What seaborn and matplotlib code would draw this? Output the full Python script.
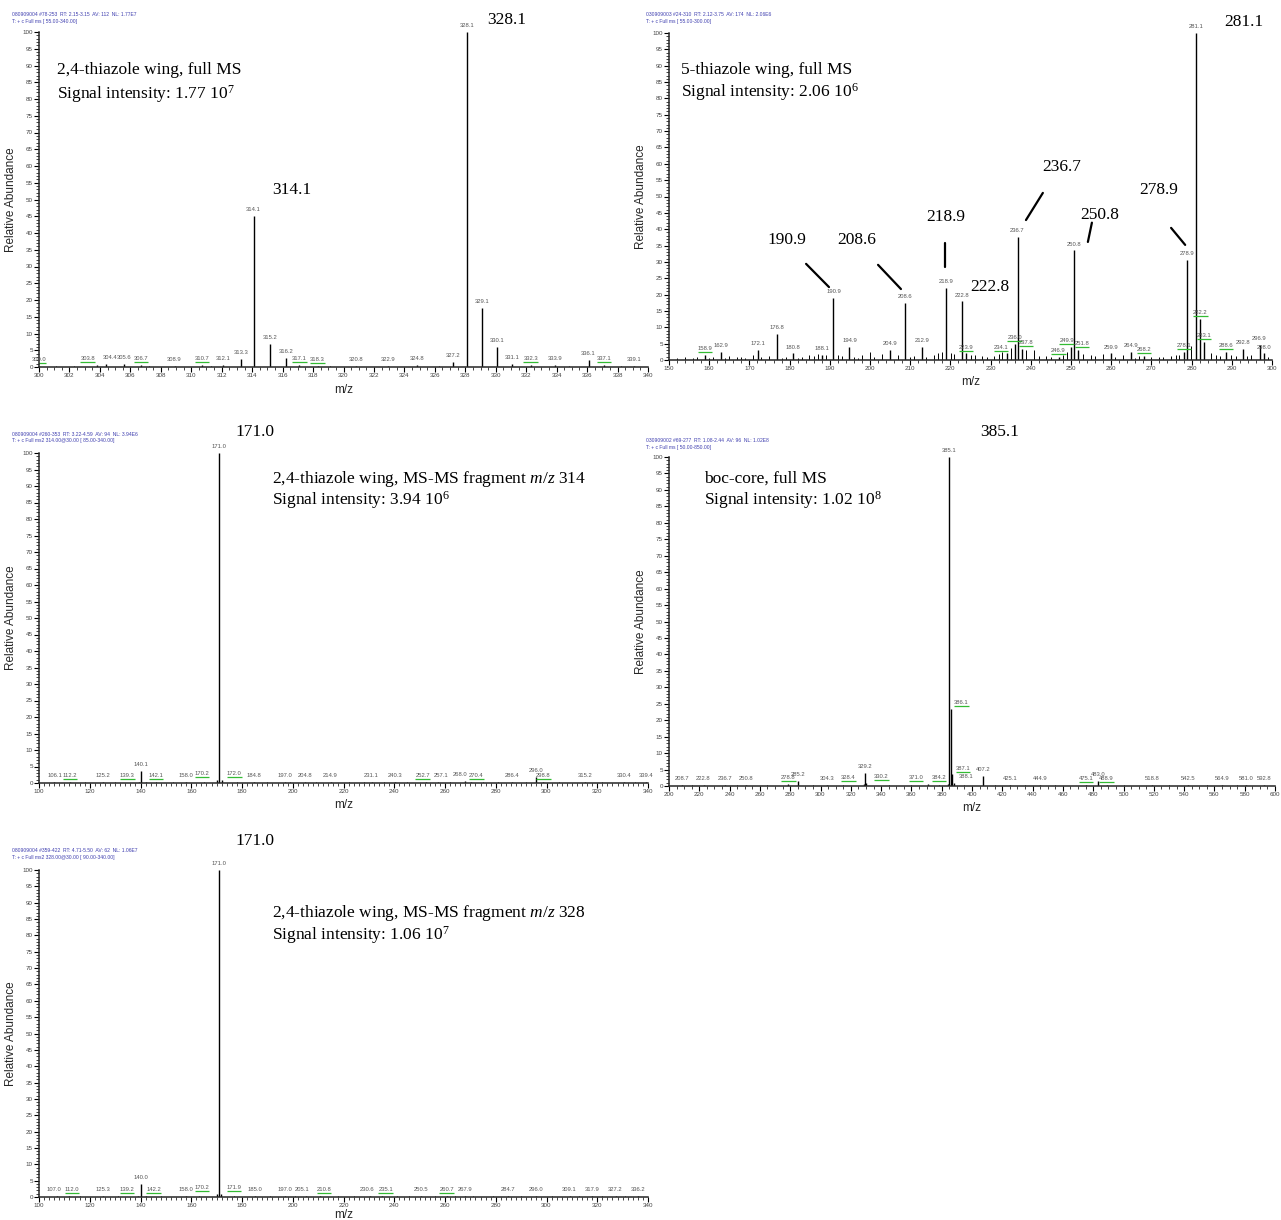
import matplotlib
matplotlib.use("Agg")
import matplotlib.pyplot as plt
import seaborn as sns
from matplotlib.ticker import MultipleLocator

sns.set_style("ticks")
plt.rcParams['font.family'] = ['Liberation Sans', 'DejaVu Sans']
plt.rcParams['mathtext.fontset'] = 'custom'
plt.rcParams['mathtext.rm'] = 'Liberation Serif'
plt.rcParams['mathtext.it'] = 'Liberation Serif:italic'

# ---- panel 1 : 2,4-thiazole wing, full MS
p1_mz = [300.0, 303.8, 304.4, 305.6, 306.7, 308.9, 310.7, 312.1, 313.3, 314.1, 315.2, 316.2, 317.1,
         318.3, 320.8, 322.9, 324.8, 327.2, 328.1, 329.1, 330.1, 331.1, 332.3, 333.9, 336.1, 337.1, 339.1]
p1_ab = [0.4, 0.5, 1.0, 0.8, 0.5, 0.3, 0.5, 0.6, 2.5, 45.0, 7.0, 2.6, 0.5,
         0.4, 0.3, 0.3, 0.6, 1.5, 100.0, 17.5, 6.0, 1.0, 0.5, 0.5, 2.0, 0.5, 0.4]
p1_green = [300.0, 303.8, 306.7, 310.7, 317.1, 318.3, 332.3, 337.1]
p1_noise_mz = [301.1, 302.3, 307.2, 311.3, 319.1, 326.3, 334.8, 338.2]
p1_noise_ab = [0.3, 0.2, 0.4, 0.2, 0.3, 0.2, 0.3, 0.2]

# ---- panel 2 : 5-thiazole wing, full MS
p2_mz = [158.9, 162.9, 172.1, 176.8, 180.8, 188.1, 190.9, 194.9, 204.9, 208.6, 212.9, 218.9, 222.8,
         223.9, 234.1, 236.0, 236.7, 237.8, 246.9, 249.9, 250.8, 251.8, 259.9, 264.9, 268.2, 278.1,
         278.9, 281.1, 282.2, 283.1, 288.6, 292.8, 296.9, 298.0]
p2_ab = [1.5, 2.5, 3.0, 8.0, 2.0, 1.5, 19.0, 4.0, 3.0, 17.4, 4.0, 21.9, 17.9,
         2.0, 2.0, 5.0, 37.5, 3.5, 1.0, 4.0, 33.5, 3.0, 2.0, 2.5, 1.2, 2.5,
         30.7, 100.0, 12.5, 5.5, 2.5, 3.5, 4.5, 2.0]
p2_green = [158.9, 223.9, 234.1, 236.0, 237.8, 246.9, 249.9, 251.8, 268.2, 278.1, 282.2, 283.1, 288.6]
p2_noise_mz = [152, 154, 156, 157, 160, 161, 164, 165, 166.9, 168, 169, 171, 173, 174.9, 178, 179,
               182, 183, 184.9, 186, 187, 189, 192, 193, 196, 197, 198, 199.9, 201, 202.9, 206.9,
               210, 211, 214, 215.9, 216.9, 217.9, 220.1, 220.9, 225, 226, 227.9, 229, 230.9, 232,
               232.9, 235.1, 238.9, 240.9, 242, 243.9, 245, 247.9, 248.9, 252.9, 254.9, 256, 257.9,
               261, 262.9, 266, 267, 270, 271.9, 273, 274.9, 276, 276.9, 279.9, 284.9, 286, 287,
               289.9, 291, 293.9, 294.9, 299]
p2_noise_ab = [0.6, 0.8, 0.5, 1.0, 0.7, 0.9, 0.6, 1.2, 1.0, 0.8, 0.6, 1.4, 0.8, 1.2, 0.7, 0.9,
               0.6, 0.9, 1.5, 1.1, 1.8, 1.6, 1.5, 1.2, 0.8, 0.6, 1.4, 2.5, 0.9, 1.8, 1.6,
               0.9, 1.2, 1.0, 1.5, 2.2, 2.4, 2.0, 1.8, 1.4, 1.5, 1.2, 0.9, 1.3, 1.8,
               2.4, 3.8, 3.0, 3.2, 1.2, 1.1, 0.8, 1.6, 2.5, 1.8, 1.5, 1.2, 1.8,
               0.9, 1.5, 0.7, 1.1, 0.9, 1.0, 0.8, 1.2, 1.4, 1.6, 4.2, 2.0, 1.4, 1.2,
               1.5, 1.1, 1.2, 1.4, 1.0]

# ---- panel 3 : MS-MS fragment m/z 314
p3_mz = [106.1, 112.2, 125.2, 139.3, 140.1, 142.1, 158.0, 170.2, 171.0, 172.0, 184.8, 197.0, 204.8,
         214.9, 231.1, 240.3, 252.7, 257.1, 268.0, 270.4, 286.4, 296.0, 298.8, 315.2, 330.4, 339.4]
p3_ab = [0.3, 0.4, 0.3, 0.4, 3.5, 0.4, 0.3, 1.0, 100.0, 0.8, 0.3, 0.4, 0.3,
         0.3, 0.3, 0.3, 0.3, 0.3, 0.6, 0.3, 0.3, 1.8, 0.3, 0.3, 0.3, 0.3]
p3_green = [112.2, 139.3, 142.1, 170.2, 172.0, 252.7, 270.4, 298.8]
p3_noise_mz = [118, 130, 146, 153, 165, 178, 190, 199, 209, 222, 228, 236, 245, 262, 275, 281, 292, 305, 322, 335]
p3_noise_ab = [0.2, 0.2, 0.3, 0.2, 0.2, 0.3, 0.2, 0.3, 0.2, 0.2, 0.3, 0.2, 0.3, 0.2, 0.3, 0.2, 0.2, 0.3, 0.2, 0.2]

# ---- panel 4 : boc-core, full MS
p4_mz = [208.7, 222.8, 236.7, 250.8, 278.8, 285.2, 304.3, 328.4, 329.2, 330.2, 371.0, 384.2, 385.1,
         386.1, 387.1, 388.1, 407.2, 425.1, 444.9, 475.1, 483.0, 488.9, 518.8, 542.5, 564.9, 581.0, 592.8]
p4_ab = [0.2, 0.2, 0.2, 0.2, 0.5, 1.5, 0.2, 0.5, 4.0, 1.0, 0.5, 0.7, 100.0,
         23.5, 3.5, 1.0, 3.0, 0.3, 0.2, 0.3, 1.5, 0.3, 0.2, 0.2, 0.2, 0.2, 0.2]
p4_green = [278.8, 328.4, 330.2, 371.0, 384.2, 386.1, 387.1, 475.1, 488.9]
p4_noise_mz = [215, 245, 265, 295, 315, 345, 360, 378, 395, 415, 435, 455, 500, 530, 555, 575]
p4_noise_ab = [0.2, 0.2, 0.3, 0.2, 0.2, 0.3, 0.2, 0.3, 0.3, 0.2, 0.2, 0.2, 0.2, 0.2, 0.2, 0.2]

# ---- panel 5 : MS-MS fragment m/z 328
p5_mz = [107.0, 112.0, 125.3, 139.2, 140.0, 142.2, 158.0, 170.2, 171.0, 171.9, 185.0, 197.0, 205.1,
         210.8, 230.6, 235.1, 250.5, 260.7, 267.9, 284.7, 296.0, 309.1, 317.9, 327.2, 336.2]
p5_ab = [0.3, 0.4, 0.3, 0.4, 4.0, 0.4, 0.3, 1.0, 100.0, 0.8, 0.2, 0.3, 0.3,
         0.4, 0.3, 0.4, 0.3, 0.4, 0.4, 0.2, 0.4, 0.2, 0.2, 0.2, 0.2]
p5_green = [112.0, 139.2, 142.2, 170.2, 171.9, 210.8, 235.1, 260.7]
p5_noise_mz = [116, 131, 148, 163, 177, 191, 201, 218, 224, 241, 246, 256, 264, 271, 279, 290, 302, 313, 322, 331]
p5_noise_ab = [0.2, 0.2, 0.3, 0.2, 0.2, 0.3, 0.2, 0.3, 0.2, 0.3, 0.2, 0.3, 0.2, 0.3, 0.2, 0.2, 0.3, 0.2, 0.2, 0.2]

W, H = 1281, 1220
fig = plt.figure(figsize=(W / 100, H / 100), dpi=100)
fig.patch.set_facecolor('white')


def make_ax(left, right, top, bottom):
    return fig.add_axes([left / W, 1 - bottom / H, (right - left) / W, (bottom - top) / H])


def spectrum(ax, mz, ab, green, nmz, nab, xlim, xmaj, xmin, nudge=None, xlab_y=-0.05):
    nudge = nudge or {}
    ax.vlines(nmz, 0, nab, color='black', lw=0.7)
    ax.vlines(mz, 0, ab, color='black', lw=1.0)
    span = xlim[1] - xlim[0]
    for m, a in zip(mz, ab):
        x = m + nudge.get(m, 0)
        ax.text(x, a + 1.2, f"{m:.1f}", fontsize=4.2, color='#555555', ha='center', va='bottom',
                clip_on=False)
        if m in green:
            ax.hlines(a + 0.9, x - 0.012 * span, x + 0.012 * span, color='#33bb33', lw=0.9)
    ax.set_xlim(*xlim)
    ax.set_ylim(0, 100)
    ax.xaxis.set_major_locator(MultipleLocator(xmaj))
    ax.xaxis.set_minor_locator(MultipleLocator(xmin))
    ax.yaxis.set_major_locator(MultipleLocator(5))
    ax.yaxis.set_minor_locator(MultipleLocator(1))
    ax.tick_params(axis='both', which='major', labelsize=4.5, length=3.5, width=0.8,
                   colors='black', labelcolor='#444444', pad=1)
    ax.tick_params(axis='both', which='minor', length=2, width=0.6)
    sns.despine(ax=ax)
    for s in ('left', 'bottom'):
        ax.spines[s].set_linewidth(1.1)
    ax.set_facecolor('white')
    ax.set_ylabel('Relative Abundance', fontsize=8.5)
    ax.set_xlabel('m/z', fontsize=8.5)
    ax.yaxis.set_label_coords(-0.036, 0.5)
    ax.xaxis.set_label_coords(0.5, xlab_y)


serif = dict(family=['Liberation Serif', 'DejaVu Serif'], fontsize=12.5, color='black')
hdr = dict(fontsize=3.6, color='#4040b0', va='center', ha='left')

# panel 1
ax1 = make_ax(39, 648, 32, 367)
spectrum(ax1, p1_mz, p1_ab, p1_green, p1_noise_mz, p1_noise_ab, (300, 340), 2, 0.5,
         nudge={303.8: -0.6, 304.4: 0.3})
ax1.text(316.6, 52.8, '314.1', ha='center', va='center', **serif)
ax1.text(330.7, 103.5, '328.1', ha='center', va='center', clip_on=False, **serif)
ax1.text(0.03, 0.887, '2,4-thiazole wing, full MS', transform=ax1.transAxes, va='center', **serif)
ax1.text(0.03, 0.815, r'Signal intensity: 1.77 10$^{7}$', transform=ax1.transAxes, va='center', **serif)
fig.text(12 / W, 1 - 14 / H, '080909004 #78-253  RT: 2.15-3.15  AV: 112  NL: 1.77E7', **hdr)
fig.text(12 / W, 1 - 21 / H, 'T: + c Full ms [ 55.00-340.00]', **hdr)

# panel 2
ax2 = make_ax(669, 1272, 33, 360)
spectrum(ax2, p2_mz, p2_ab, p2_green, p2_noise_mz, p2_noise_ab, (150, 300), 10, 2,
         nudge={234.1: -1.5, 237.8: 1.0, 249.9: -1.0, 251.8: 1.0})
ax2.text(293, 103.4, '281.1', ha='center', va='center', clip_on=False, **serif)
big2 = [('190.9', 179.4, 36.7), ('208.6', 196.8, 36.7), ('218.9', 218.9, 43.7), ('222.8', 229.9, 22.3),
        ('236.7', 247.8, 59.0), ('250.8', 257.2, 44.3), ('278.9', 271.9, 52.0)]
for t, x, y in big2:
    ax2.text(x, y, t, ha='center', va='center', **serif)
leaders = [((184.1, 29.4), (189.8, 22.3)), ((202.0, 29.1), (207.7, 21.7)), ((218.7, 35.8), (218.7, 28.4)),
           ((243.0, 51.1), (238.8, 42.8)), ((255.2, 42.0), (254.2, 36.1)), ((274.9, 40.4), (278.4, 35.2))]
for (xa, ya), (xb, yb) in leaders:
    ax2.plot([xa, xb], [ya, yb], color='black', lw=1.6)
ax2.text(0.02, 0.887, '5-thiazole wing, full MS', transform=ax2.transAxes, va='center', **serif)
ax2.text(0.02, 0.82, r'Signal intensity: 2.06 10$^{6}$', transform=ax2.transAxes, va='center', **serif)
fig.text(646 / W, 1 - 14 / H, '030909003 #24-310  RT: 2.12-3.75  AV: 174  NL: 2.06E6', **hdr)
fig.text(646 / W, 1 - 21 / H, 'T: + c Full ms [ 55.00-300.00]', **hdr)

# panel 3
ax3 = make_ax(39, 648, 453, 783)
spectrum(ax3, p3_mz, p3_ab, p3_green, p3_noise_mz, p3_noise_ab, (100, 340), 20, 2,
         nudge={139.3: -4.5, 142.1: 4.0, 170.2: -6.0, 172.0: 5.0,
                252.7: -1.5, 257.1: 1.5, 268.0: -2.0, 270.4: 2.0})
ax3.text(185.1, 106.4, '171.0', ha='center', va='center', clip_on=False, **serif)
ax3.text(0.383, 0.921, r'2,4-thiazole wing, MS-MS fragment $\it{m/z}$ 314', transform=ax3.transAxes,
         va='center', **serif)
ax3.text(0.383, 0.858, r'Signal intensity: 3.94 10$^{6}$', transform=ax3.transAxes, va='center', **serif)
fig.text(12 / W, 1 - 434 / H, '080909004 #260-353  RT: 3.22-4.59  AV: 94  NL: 3.94E6', **hdr)
fig.text(12 / W, 1 - 441 / H, 'T: + c Full ms2 314.00@30.00 [ 85.00-340.00]', **hdr)

# panel 4
ax4 = make_ax(669, 1275, 457, 786)
spectrum(ax4, p4_mz, p4_ab, p4_green, p4_noise_mz, p4_noise_ab, (200, 600), 20, 5,
         nudge={328.4: -10, 330.2: 10, 371.0: -8, 384.2: -6, 386.1: 7, 387.1: 7, 388.1: 8})
ax4.text(418.5, 107.6, '385.1', ha='center', va='center', clip_on=False, **serif)
ax4.text(0.058, 0.933, 'boc-core, full MS', transform=ax4.transAxes, va='center', **serif)
ax4.text(0.058, 0.869, r'Signal intensity: 1.02 10$^{8}$', transform=ax4.transAxes, va='center', **serif)
fig.text(646 / W, 1 - 440 / H, '030909002 #69-277  RT: 1.08-2.44  AV: 96  NL: 1.02E8', **hdr)
fig.text(646 / W, 1 - 447 / H, 'T: + c Full ms [ 50.00-850.00]', **hdr)

# panel 5
ax5 = make_ax(39, 648, 870, 1197)
spectrum(ax5, p5_mz, p5_ab, p5_green, p5_noise_mz, p5_noise_ab, (100, 340), 20, 2,
         nudge={107.0: -1.0, 112.0: 1.0, 139.2: -4.5, 142.2: 3.0, 170.2: -6.0, 171.9: 5.0,
                205.1: -1.5, 210.8: 1.5, 230.6: -1.5, 235.1: 1.5}, xlab_y=-0.036)
ax5.text(185.1, 109, '171.0', ha='center', va='center', clip_on=False, **serif)
ax5.text(0.383, 0.869, r'2,4-thiazole wing, MS-MS fragment $\it{m/z}$ 328', transform=ax5.transAxes,
         va='center', **serif)
ax5.text(0.383, 0.801, r'Signal intensity: 1.06 10$^{7}$', transform=ax5.transAxes, va='center', **serif)
fig.text(12 / W, 1 - 851 / H, '080909004 #359-422  RT: 4.71-5.50  AV: 62  NL: 1.06E7', **hdr)
fig.text(12 / W, 1 - 858 / H, 'T: + c Full ms2 328.00@30.00 [ 90.00-340.00]', **hdr)

fig.savefig('out.png', dpi=100, facecolor='white')
